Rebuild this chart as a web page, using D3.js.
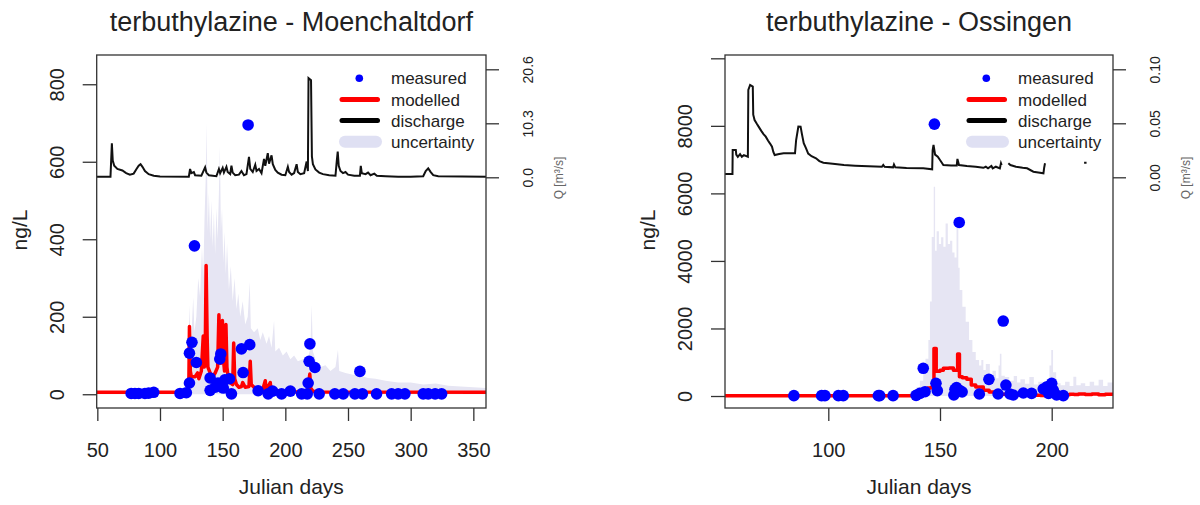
<!DOCTYPE html>
<html>
<head>
<meta charset="utf-8">
<script src="https://cdn.jsdelivr.net/npm/d3@7"></script>
<style>
  body { margin: 0; background: #fff; }
  svg text { font-family: "Liberation Sans", Arial, sans-serif; fill: #222; }
</style>
</head>
<body>
<svg id="chart" width="1200" height="505"></svg>
<script>
// ---- data: Moenchaltdorf (left) ----
const moeXTicks = [50, 100, 150, 200, 250, 300, 350];
const moeYTicks = [0, 200, 400, 600, 800];
const moeYLabels = ["0", "200", "400", "600", "800"];
const moeQTicks = [0, 10.3, 20.6];
const moeQLabels = ["0.0", "10.3", "20.6"];

// [day, ng/L]
const moeMeasured = [
  [77,2],[80,2],[83,2],[88,2],[91,3],[95,5],
  [116,2],[121,4],[123.5,29],[123.5,106],[125.5,134],[127.5,383],[129,82],
  [140,42],[140,10],[144,18],[146.3,29],[147.7,91],[148.5,104],[150.5,16],[151.7,37],[155.5,40],[157,1],
  [165,117],[166.3,56],[170.3,695],[171.6,128],[178.3,9],[186.3,1],[189.8,8],[197,1],[204,8],
  [213,1],[217.5,1],[218.2,29],[219,85],[219.6,130],[223.6,69],[227,1],
  [239.5,1],[246.2,1],[255.5,1],[259.5,59],[261.5,1],[272.8,1],[284.8,1],[290,1],[295.4,1],
  [310,1],[314,1],[319.5,1],[324.7,1]
];

const moeModel = [
  [49.5,5],[122,5],[123,20],[123.5,175],[124.2,60],[125,45],[128,45],[130,55],[131,40],[133,60],
  [134.5,150],[135.3,70],[136,80],[136.8,332],[137.6,150],[138.2,70],[140,55],[142,45],[144,55],
  [146,70],[147,205],[147.8,110],[148.5,80],[149.8,190],[150.6,90],[151.5,60],[152.6,180],[153.4,70],
  [154.5,40],[156,30],[158,25],[158.8,132],[159.6,40],[161,25],[163,18],[165,20],[166,30],[168,18],
  [171,20],[172,85],[172.8,25],[175,18],[178,15],[182,12],[184,35],[184.6,10],[188,30],[188.6,8],
  [192,10],[200,7],[210,6],[218,10],[219.5,52],[220.3,15],[222,8],[230,6],[360.1,5]
];

const moeBand = [
  [49.5,8],[120,8],[122,20],[123.5,230],[124.5,120],[125.5,180],[126.5,250],[127.5,160],[129,200],
  [130.5,300],[132,250],[133.5,380],[134.5,300],[135.5,450],[136.5,560],[137.3,700],[138,420],
  [139,520],[140,400],[141,500],[142,380],[143,470],[144,360],[145,480],[146,400],[147,520],
  [147.8,640],[148.6,420],[149.5,480],[150.5,340],[151.5,420],[152.5,310],[153.5,390],[155,270],
  [156.5,330],[158,240],[159.5,300],[161,220],[162.5,260],[164,200],[166,240],[168,180],[170,200],
  [171.6,290],[172.5,170],[175,160],[178,170],[180,140],[182,160],[185,130],[187,150],[189,120],
  [191,190],[192,110],[195,120],[198,100],[201,110],[204,90],[207,100],[210,85],[214,90],[217,80],
  [220,120],[221,230],[222,110],[225,80],[228,70],[232,75],[236,60],[240,70],[242,115],[243,60],
  [248,55],[254,50],[260,48],[266,42],[272,40],[280,35],[290,30],[300,30],[310,25],[320,28],
  [330,22],[340,20],[350,18],[360.1,16]
];

// [day, m3/s]
const moeQ = [
  [49.5,0.1],[60.5,0.1],[61,3],[61.6,6.5],[62.3,3.2],[63.5,2.2],[66,1.6],[70,1.3],[73,0.8],[76,0.5],
  [79,0.7],[81,1.5],[83,2.2],[84.5,2.5],[86,2.0],[88,1.2],[91,0.6],[95,0.3],[100,0.15],[123,0.1],
  [124,1.6],[125,0.8],[127,1.0],[128,0.4],[133,0.3],[136,1.9],[137,0.9],[139,0.4],[145,0.2],
  [147,1.6],[148,0.8],[150,1.8],[151,0.9],[153,2.0],[154,1.0],[156,0.6],[157,2.2],[158,0.9],
  [160,0.4],[163,0.5],[165,1.2],[167,0.4],[169,0.6],[171,3.9],[172,1.6],[174,1.0],[176,2.4],
  [177,1.2],[179,1.6],[181,0.8],[183,3.5],[184,2.2],[186,4.6],[187,2.6],[189,4.2],[190,2.5],
  [192,1.4],[194,0.9],[197,0.5],[200,0.4],[202,2.0],[203,1.0],[205,0.5],[207,0.8],[209,2.5],
  [210,1.0],[212,0.6],[215,0.8],[217,3.0],[218,1.2],[218.5,18.9],[220.5,18.5],[221.2,4.0],
  [222,2.5],[224,1.5],[227,0.9],[230,0.6],[235,0.4],[240,0.3],[241,3.0],[241.8,4.9],[242.6,2.2],
  [244,1.2],[246,0.8],[248,1.0],[250,0.5],[255,0.3],[259.5,0.3],[260.2,2.2],[261,0.8],[264,0.6],
  [266,0.9],[268,0.4],[271,0.7],[273,0.3],[280,0.2],[290,0.1],[300,0.1],[310,0.2],[312,1.2],
  [314,1.7],[316,1.0],[318,0.4],[322,0.2],[360.1,0.1]
];

// ---- data: Ossingen (right) ----
const ossXTicks = [100, 150, 200];
const ossYTicks = [0, 2000, 4000, 6000, 8000, 10000];
const ossYLabels = ["0", "2000", "4000", "6000", "8000", ""];
const ossQTicks = [0, 0.05, 0.10];
const ossQLabels = ["0.00", "0.05", "0.10"];

const ossMeasured = [
  [84.6,10],[97,10],[98.5,10],[104.5,10],[106.7,10],[122.4,10],[123,10],[129,10],
  [139.3,20],[141,79],[142.5,820],[143.3,128],[147.5,8050],[148.2,375],[148.8,158],
  [156.2,30],[156.7,197],[157.4,250],[158.6,5140],[158.9,160],[159.9,120],[167.6,59],
  [171.9,493],[176,59],[178.3,2220],[179.5,325],[181.3,59],[182.8,30],[187.3,89],[191,79],
  [196.2,207],[197.9,275],[198.6,79],[200,375],[200.7,177],[202.2,30],[205.2,10]
];

const ossModel = [
  [53.8,5],[130,5],[138,10],[141,40],[143,100],[144.5,240],[146,260],[147,300],[147.3,1410],
  [148.3,730],[150,760],[151.5,824],[154,830],[156,760],[157.9,1243],[158.7,572],[160,540],
  [162,493],[164,326],[166,266],[169.4,168],[172,118],[175,80],[177,50],[180,45],[183,30],
  [187,20],[195,15],[200,15],[203,20],[206,40],[208,55],[210,45],[212,60],[215,45],[218,60],
  [221,40],[224,55],[227.4,45]
];

const ossBand = [
  [53.8,0],[133,0],[134.5,40],[136.5,118],[138,180],[139.5,266],[141,450],[142.5,760],[143.5,1100],
  [144.8,1660],[145.5,2800],[146.3,4710],[147.2,6200],[147.8,4300],[148.5,4880],[149.5,4500],
  [150.5,4700],[151.5,4420],[152.5,5110],[153.5,4500],[154.5,4600],[155.5,4250],[156.5,4100],
  [157.4,5160],[158.2,3800],[158.8,3140],[160,2640],[161.5,2200],[163,1660],[164.5,1300],
  [166,1065],[167.5,900],[168.5,1065],[169.4,770],[170.5,950],[172.3,620],[173.5,750],[175,523],
  [176.2,900],[176.8,1250],[177.5,600],[179,560],[181,450],[183,590],[184.5,400],[186,500],
  [188,360],[190,560],[192,340],[194,420],[196,330],[198,500],[199,900],[199.8,1360],[200.6,700],
  [202,380],[204,320],[206,420],[208,300],[209.7,570],[211,320],[213,380],[215,300],[217,420],
  [219,310],[221,480],[223,300],[225,400],[227.4,280]
];

const ossQ = [
  [53.8,0.003],[57.1,0.003],[57.2,0.0253],[58.6,0.0253],[58.8,0.021],[59.5,0.019],[60.5,0.0215],
  [61.3,0.019],[62.2,0.0205],[64.0,0.019],[64.2,0.081],[65,0.0855],[66.2,0.084],[66.4,0.058],
  [67,0.053],[68,0.0495],[68.8,0.0469],[70,0.043],[71,0.040],[72,0.0376],[73,0.034],[74,0.031],
  [74.8,0.0283],[75.4,0.0235],[76,0.0206],[78,0.0215],[80,0.0222],[85.1,0.0222],[85.6,0.0345],
  [86.6,0.047],[87.6,0.0469],[88.2,0.040],[89,0.0315],[90,0.027],[91,0.022],[92.5,0.0195],
  [94.5,0.0176],[96,0.015],[97.8,0.0135],[102,0.0125],[107,0.0114],[112,0.0108],[118,0.0103],
  [124,0.0098],[124.6,0.0115],[125.2,0.0098],[129,0.0092],[129.4,0.0118],[130,0.0092],[135,0.0087],
  [142.5,0.0083],[146.5,0.0074],[146.7,0.025],[147.1,0.030],[147.8,0.021],[149,0.019],[150,0.016],
  [151.5,0.0114],[155,0.011],[157.5,0.011],[157.8,0.017],[158.5,0.0114],[162,0.0105],[166,0.0098],
  [169.4,0.0088],[170.5,0.0098],[171.5,0.0083],[173,0.0105],[173.6,0.0083],[175,0.0098],
  [176.8,0.0083],[177.3,0.013],[177.6,0.0114],[177.8,null],[180.6,0.013],[181.5,0.0114],
  [184,0.0098],[187,0.0088],[189,0.0083],[191.8,0.0052],[194,0.0045],[196.3,0.0037],[196.6,0.0085],
  [197,0.013],[197.1,null],[214.5,0.0135],[215.6,0.0135]
];

const legendLabels = ["measured", "modelled", "discharge", "uncertainty"];

const BLUE = "#0000ff", RED = "#ff0000", BAND = "#e6e5f3", AXIS = "#333";

const svg = d3.select("#chart");

function drawPanel(p) {
  const x = d3.scaleLinear().domain(p.xDomain).range([p.left, p.right]);
  const y = d3.scaleLinear().domain(p.yDomain).range([p.bottom, p.top]);
  const q = d3.scaleLinear().domain([0, p.qTicks[p.qTicks.length - 1]]).range([177.3, 69.3]);
  const curve = p.step ? d3.curveStepAfter : d3.curveLinear;

  svg.append("clipPath").attr("id", "clip-" + p.id)
    .append("rect")
    .attr("x", p.left).attr("y", p.top)
    .attr("width", p.right - p.left).attr("height", p.bottom - p.top);

  const g = svg.append("g");
  const plot = g.append("g").attr("clip-path", `url(#clip-${p.id})`);

  // uncertainty band
  plot.append("path")
    .datum(p.band)
    .attr("d", d3.area().x(d => x(d[0])).y0(y(0)).y1(d => y(d[1])).curve(curve))
    .attr("fill", BAND);

  // modelled
  plot.append("path")
    .datum(p.model)
    .attr("d", d3.line().x(d => x(d[0])).y(d => y(d[1])).curve(curve))
    .attr("fill", "none")
    .attr("stroke", RED)
    .attr("stroke-width", 3.5)
    .attr("stroke-linejoin", "round");

  // discharge
  plot.append("path")
    .datum(p.q)
    .attr("d", d3.line().defined(d => d[1] != null).x(d => x(d[0])).y(d => q(d[1])))
    .attr("fill", "none")
    .attr("stroke", "#111")
    .attr("stroke-width", 2);

  // measured
  plot.selectAll("circle.meas")
    .data(p.measured)
    .join("circle")
    .attr("class", "meas")
    .attr("cx", d => x(d[0]))
    .attr("cy", d => y(d[1]))
    .attr("r", 5.8)
    .attr("fill", BLUE);

  // frame
  g.append("rect")
    .attr("x", p.left).attr("y", p.top)
    .attr("width", p.right - p.left).attr("height", p.bottom - p.top)
    .attr("fill", "none").attr("stroke", AXIS).attr("stroke-width", 1.3);

  // bottom axis
  const xa = g.append("g")
    .attr("transform", `translate(0,${p.bottom})`)
    .call(d3.axisBottom(x).tickValues(p.xTicks).tickSize(13).tickPadding(22).tickFormat(d3.format("d")));
  xa.select(".domain").remove();
  xa.selectAll("line").attr("stroke", AXIS).attr("stroke-width", 1.3);
  xa.selectAll("text").attr("font-size", 20).attr("fill", "#222").attr("dy", "0.71em");

  // left axis (rotated labels)
  const ya = g.append("g")
    .attr("transform", `translate(${p.left},0)`)
    .call(d3.axisLeft(y).tickValues(p.yTicks).tickSize(14).tickFormat((d, i) => p.yLabels[i]));
  ya.select(".domain").remove();
  ya.selectAll("line").attr("stroke", AXIS).attr("stroke-width", 1.3);
  ya.selectAll("text")
    .attr("x", null).attr("dy", "0.36em")
    .attr("transform", "translate(-40,0) rotate(-90)")
    .attr("text-anchor", "middle")
    .attr("font-size", 20).attr("fill", "#222");

  // right axis for discharge
  const qa = g.append("g")
    .attr("transform", `translate(${p.right},0)`)
    .call(d3.axisRight(q).tickValues(p.qTicks).tickSize(13).tickFormat((d, i) => p.qLabels[i]));
  qa.select(".domain").remove();
  qa.selectAll("line").attr("stroke", AXIS).attr("stroke-width", 1.3);
  qa.selectAll("text")
    .attr("x", null).attr("dy", "0.36em")
    .attr("transform", "translate(41.5,0) rotate(-90)")
    .attr("text-anchor", "middle")
    .attr("font-size", 14).attr("fill", "#444");

  g.append("text")
    .attr("transform", `translate(${p.right + 73},178) rotate(-90)`)
    .attr("text-anchor", "middle").attr("dy", "0.36em")
    .attr("font-size", 12).style("fill", "#666")
    .text("Q [m³/s]");

  // titles
  const cx = (p.left + p.right) / 2;
  g.append("text").attr("x", cx).attr("y", 31)
    .attr("text-anchor", "middle").attr("font-size", 27)
    .text(p.title);
  g.append("text").attr("x", cx).attr("y", 494)
    .attr("text-anchor", "middle").attr("font-size", 21)
    .text("Julian days");
  g.append("text")
    .attr("transform", `translate(${p.left - 77.5},230) rotate(-90)`)
    .attr("text-anchor", "middle").attr("dy", "0.36em").attr("font-size", 21)
    .text("ng/L");

  // legend
  const lg = g.append("g").attr("transform", `translate(${p.right},0)`);
  const rowY = d3.scalePoint().domain(legendLabels).range([78.3, 141.7]);
  lg.append("circle").attr("cx", -126.7).attr("cy", rowY("measured")).attr("r", 3.8).attr("fill", BLUE);
  lg.append("line").attr("x1", -144).attr("x2", -108.5)
    .attr("y1", rowY("modelled")).attr("y2", rowY("modelled"))
    .attr("stroke", RED).attr("stroke-width", 5).attr("stroke-linecap", "round");
  lg.append("line").attr("x1", -144).attr("x2", -108.5)
    .attr("y1", rowY("discharge")).attr("y2", rowY("discharge"))
    .attr("stroke", "#000").attr("stroke-width", 5).attr("stroke-linecap", "round");
  lg.append("line").attr("x1", -141).attr("x2", -110)
    .attr("y1", rowY("uncertainty")).attr("y2", rowY("uncertainty"))
    .attr("stroke", "#dfe0f3").attr("stroke-width", 12).attr("stroke-linecap", "round");
  lg.selectAll("text.leg")
    .data(legendLabels)
    .join("text")
    .attr("class", "leg")
    .attr("x", -95)
    .attr("y", d => rowY(d))
    .attr("dy", "0.36em")
    .attr("font-size", 17)
    .text(d => d);
}

drawPanel({
  id: "moe", title: "terbuthylazine - Moenchaltdorf",
  left: 96.7, right: 486, top: 55, bottom: 408,
  xDomain: [49.5, 360.1], yDomain: [-35.5, 875.5],
  xTicks: moeXTicks, yTicks: moeYTicks, yLabels: moeYLabels,
  qTicks: moeQTicks, qLabels: moeQLabels,
  measured: moeMeasured, model: moeModel, band: moeBand, q: moeQ, step: false
});

drawPanel({
  id: "oss", title: "terbuthylazine - Ossingen",
  left: 725, right: 1113, top: 55, bottom: 408,
  xDomain: [53.76, 227.44], yDomain: [-355, 10098],
  xTicks: ossXTicks, yTicks: ossYTicks, yLabels: ossYLabels,
  qTicks: ossQTicks, qLabels: ossQLabels,
  measured: ossMeasured, model: ossModel, band: ossBand, q: ossQ, step: true
});
</script>
</body>
</html>
